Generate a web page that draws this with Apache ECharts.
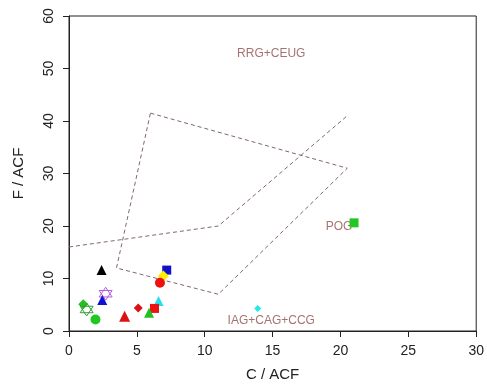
<!DOCTYPE html>
<html>
<head>
<meta charset="utf-8">
<script src="https://cdn.jsdelivr.net/npm/echarts@6/dist/echarts.min.js"></script>
<style>
  html, body { margin: 0; padding: 0; background: #fff; }
  #chart { width: 487px; height: 387px; }
</style>
</head>
<body>
<div id="chart"></div>
<script>
// Sample values: C/ACF (x) and F/ACF (y)
const cAcf = [2.4, 7.2, 6.95, 6.7, 2.7, 2.45, 6.6, 1.05, 1.3, 5.1, 6.3, 13.9, 5.9, 4.1, 1.95, 21.0];
const fAcf = [11.6, 11.6, 10.5, 9.2, 7.1, 5.9, 5.7, 5.1, 4.1, 4.4, 4.3, 4.3, 3.5, 2.8, 2.2, 20.6];

// Discrimination field boundaries
const boundaryA_x = [0, 11, 20.5];
const boundaryA_y = [16, 20, 41];
const boundaryB_x = [6, 20.5, 11, 3.5, 6];
const boundaryB_y = [41.5, 31, 7, 12, 41.5];

// Field names and their anchor positions
const fieldNames = ['RRG+CEUG', 'POG', 'IAG+CAG+CCG'];
const fieldX = [14.9, 19.9, 14.9];
const fieldY = [52.8, 19.9, 1.9];

const xTicks = [0, 5, 10, 15, 20, 25, 30];
const yTicks = [0, 10, 20, 30, 40, 50, 60];

// Marker style per sample (same order as the values)
const starPath = 'path://M0,-10L8.66,5L-8.66,5Z M0,10L8.66,-5L-8.66,-5Z';
const markerStyles = [
  { symbol: 'triangle', size: 10, color: '#000000' },
  { symbol: 'rect', size: 9, color: '#1010c8' },
  { symbol: 'diamond', size: 11, color: '#ffee00' },
  { symbol: 'circle', size: 10, color: '#ee1111' },
  { symbol: starPath, size: 13, color: 'none', stroke: '#b060e0' },
  { symbol: 'triangle', size: 10, color: '#1010d0' },
  { symbol: 'triangle', size: 10, color: '#22e0f0' },
  { symbol: 'diamond', size: 10, color: '#22c022' },
  { symbol: starPath, size: 13, color: 'none', stroke: '#30a030' },
  { symbol: 'diamond', size: 9, color: '#dd1111' },
  { symbol: 'rect', size: 9, color: '#ee1111' },
  { symbol: 'diamond', size: 7, color: '#22e8f0' },
  { symbol: 'triangle', size: 10, color: '#22c022' },
  { symbol: 'triangle', size: 11, color: '#dd1111' },
  { symbol: 'circle', size: 10, color: '#22c822' },
  { symbol: 'rect', size: 9, color: '#22c822' }
];

const font = '"Liberation Sans", Arial, sans-serif';
const lineColor = '#806868';

const series = [];

function pairs(xs, ys) { return xs.map((x, i) => [x, ys[i]]); }

series.push({
  type: 'line', data: pairs(boundaryA_x, boundaryA_y), symbol: 'none', silent: true,
  lineStyle: { color: lineColor, width: 1, type: [4, 3] }, z: 2
});
series.push({
  type: 'line', data: pairs(boundaryB_x, boundaryB_y), symbol: 'none', silent: true,
  lineStyle: { color: lineColor, width: 1, type: [4, 3] }, z: 2
});

series.push({
  type: 'scatter', symbolSize: 0, silent: true, z: 3,
  data: fieldNames.map((n, i) => ({ name: n, value: [fieldX[i], fieldY[i]] })),
  label: {
    show: true, position: 'inside', formatter: p => p.name,
    color: '#8f4f4f', fontFamily: font, fontSize: 12
  }
});

cAcf.forEach((x, i) => {
  const s = markerStyles[i];
  const hollow = s.color === 'none';
  series.push({
    type: 'scatter', z: 5,
    symbol: s.symbol, symbolSize: s.size,
    data: [[x, fAcf[i]]],
    itemStyle: hollow
      ? { color: 'rgba(0,0,0,0)', borderColor: s.stroke, borderWidth: 1, opacity: 1 }
      : { color: s.color, opacity: 1 }
  });
});

const chart = echarts.init(document.getElementById('chart'));
chart.setOption({
  animation: false,
  backgroundColor: '#ffffff',
  grid: {
    left: 69, right: 7, top: 16, bottom: 51,
    show: true, borderColor: '#222', borderWidth: 1, backgroundColor: 'transparent'
  },
  xAxis: {
    type: 'value', min: xTicks[0], max: xTicks[xTicks.length - 1], interval: 5,
    name: 'C / ACF', nameLocation: 'middle', nameGap: 36,
    nameTextStyle: { fontFamily: font, fontSize: 15, color: '#222' },
    axisLine: { show: true, onZero: false, lineStyle: { color: '#222', width: 1 } },
    axisTick: { show: true, length: 6, lineStyle: { color: '#222' } },
    axisLabel: { fontFamily: font, fontSize: 14, color: '#222', margin: 13 },
    splitLine: { show: false }
  },
  yAxis: {
    type: 'value', min: yTicks[0], max: yTicks[yTicks.length - 1], interval: 10,
    name: 'F / ACF', nameLocation: 'middle', nameGap: 43, nameRotate: 90,
    nameTextStyle: { fontFamily: font, fontSize: 15, color: '#222' },
    axisLine: { show: true, onZero: false, lineStyle: { color: '#222', width: 1 } },
    axisTick: { show: true, length: 6, lineStyle: { color: '#222' } },
    axisLabel: { fontFamily: font, fontSize: 14, color: '#222', rotate: 90, margin: 13 },
    splitLine: { show: false }
  },
  series: series
});
</script>
</body>
</html>
